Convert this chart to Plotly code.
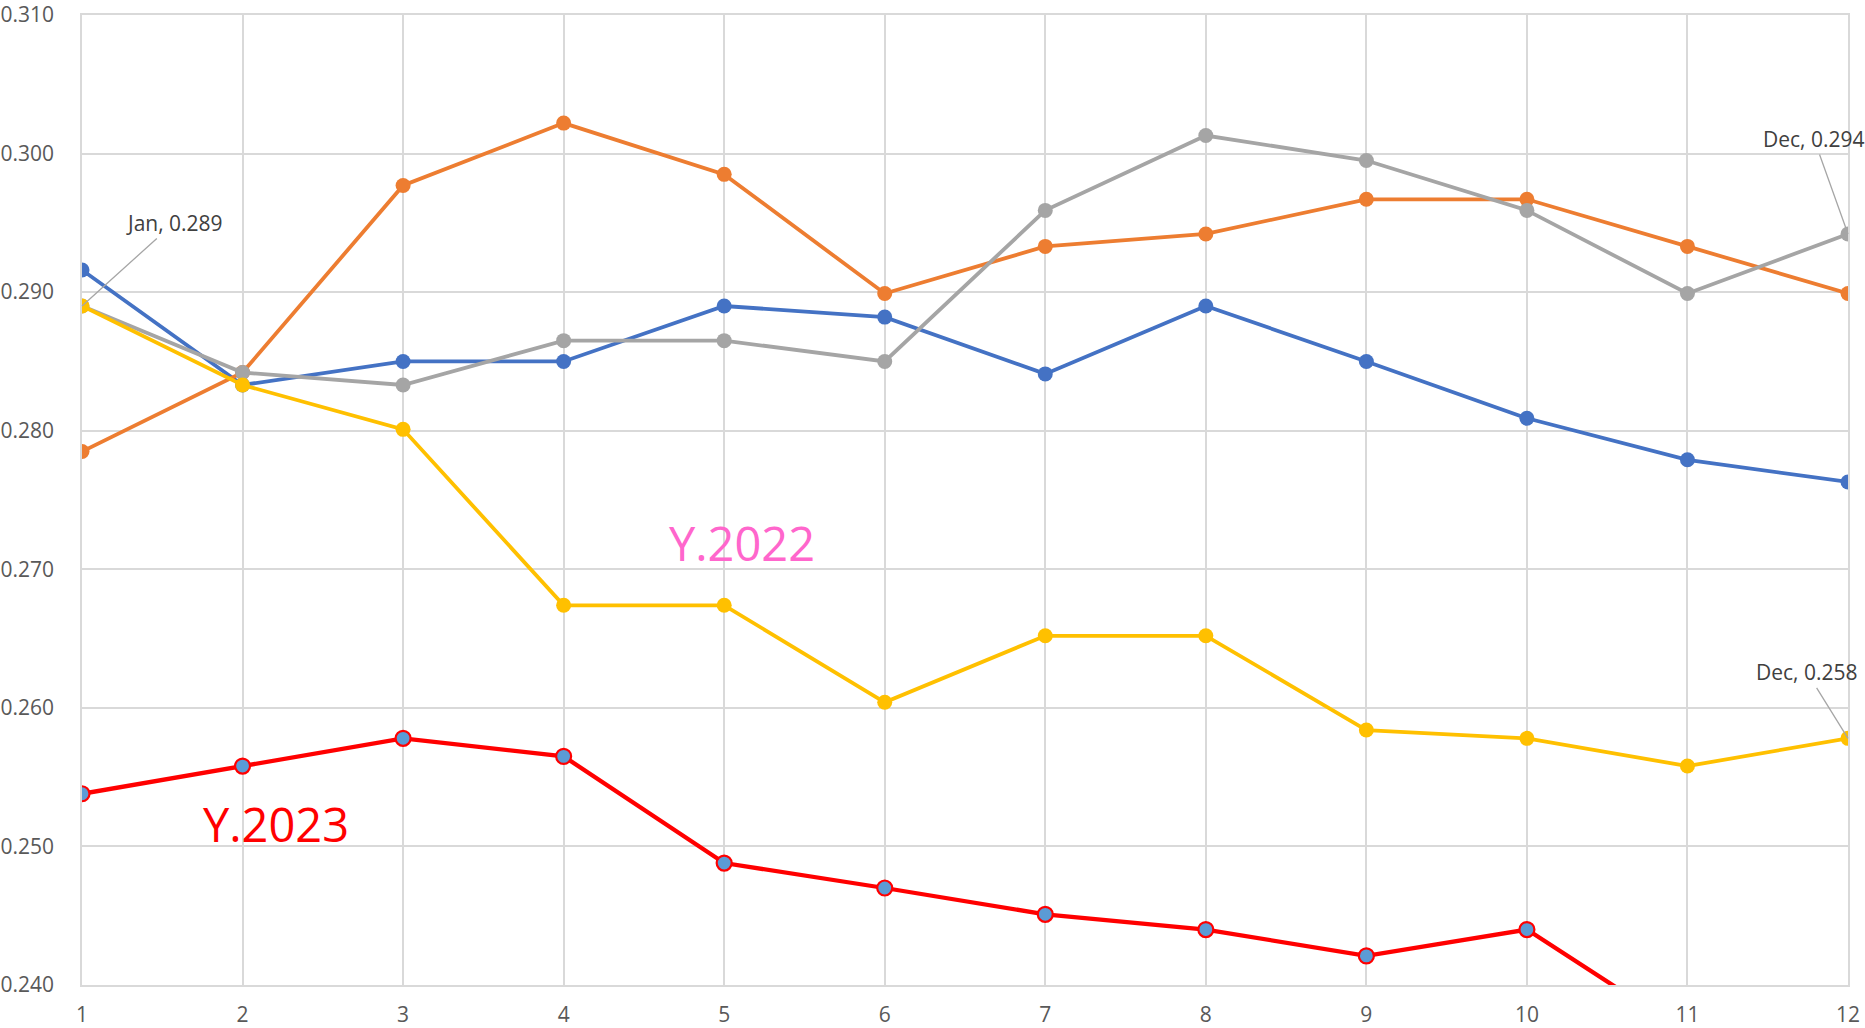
import plotly.graph_objects as go

months_num = list(range(1, 13))
month_names = ["Jan", "Feb", "Mar", "Apr", "May", "Jun", "Jul", "Aug", "Sep", "Oct", "Nov", "Dec"]

y2019 = [0.2916, 0.2833, 0.2850, 0.2850, 0.2890, 0.2882, 0.2841, 0.2890, 0.2850, 0.2809, 0.2779, 0.2763]
y2020 = [0.2785, 0.2842, 0.2977, 0.3022, 0.2985, 0.2899, 0.2933, 0.2942, 0.2967, 0.2967, 0.2933, 0.2899]
y2021 = [0.2890, 0.2842, 0.2833, 0.2865, 0.2865, 0.2850, 0.2959, 0.3013, 0.2995, 0.2959, 0.2899, 0.2942]
y2022 = [0.2890, 0.2833, 0.2801, 0.2674, 0.2674, 0.2604, 0.2652, 0.2652, 0.2584, 0.2578, 0.2558, 0.2578]
y2023 = [0.2538, 0.2558, 0.2578, 0.2565, 0.2488, 0.2470, 0.2451, 0.2440, 0.2421, 0.2440, 0.2365]

series = [
    ("Y.2019", y2019, "#4472C4"),
    ("Y.2020", y2020, "#ED7D31"),
    ("Y.2021", y2021, "#A5A5A5"),
    ("Y.2022", y2022, "#FFC000"),
]

FONT = "Open Sans"
fig = go.Figure()
for name, vals, col in series:
    fig.add_trace(go.Scatter(
        x=months_num[:len(vals)], y=vals, name=name, mode="lines+markers",
        line=dict(color=col, width=3.8),
        marker=dict(color=col, size=15, line=dict(width=0)),
    ))
fig.add_trace(go.Scatter(
    x=months_num[:len(y2023)], y=y2023, name="Y.2023", mode="lines+markers",
    line=dict(color="#FF0000", width=4.3),
    marker=dict(color="#5B9BD5", size=15, line=dict(color="#FF0000", width=2.2)),
))

label_font = dict(family=FONT, size=21, color="#404040")
ann = [
    (1, y2022[0], f"{month_names[0]}, {y2022[0]:.3f}", 92, -83),
    (12, y2021[11], f"{month_names[11]}, {y2021[11]:.3f}", -34, -95),
    (12, y2022[11], f"{month_names[11]}, {y2022[11]:.3f}", -41, -66),
]
for x, y, t, ax, ay in ann:
    fig.add_annotation(x=x, y=y, text=t, showarrow=True, arrowhead=0, arrowwidth=1.3,
                       arrowcolor="#A6A6A6", ax=ax, ay=ay, standoff=0, startstandoff=0,
                       font=label_font)

fig.add_annotation(x=5.11, y=0.2719, text="Y.2022", showarrow=False,
                   font=dict(family=FONT, size=47, color="#FF66CC"))
fig.add_annotation(x=2.21, y=0.2516, text="Y.2023", showarrow=False,
                   font=dict(family=FONT, size=47, color="#FF0000"))

grid = "#D9D9D9"
fig.update_layout(
    width=1865, height=1028,
    margin=dict(l=82, r=17, t=15, b=43),
    paper_bgcolor="white", plot_bgcolor="white",
    showlegend=False,
    font=dict(family=FONT, size=21, color="#595959"),
)
fig.update_xaxes(
    range=[1, 12], tickmode="array", tickvals=months_num, ticktext=[str(m) for m in months_num],
    showgrid=True, gridcolor=grid, gridwidth=1.5, showline=True, linecolor=grid, linewidth=1.5,
    mirror=True, zeroline=False, ticks="", ticklabelstandoff=10, automargin=False,
    tickfont=dict(family=FONT, size=21, color="#595959"),
)
fig.update_yaxes(
    range=[0.240, 0.310], dtick=0.01, tick0=0.24, tickformat=".3f",
    showgrid=True, gridcolor=grid, gridwidth=1.5, showline=True, linecolor=grid, linewidth=1.5,
    mirror=True, zeroline=False, ticks="", ticklabelstandoff=22, automargin=False,
    tickfont=dict(family=FONT, size=21, color="#595959"),
)
fig.write_html("out.html", config={"displayModeBar": False},
               post_script="document.body.style.margin='0';")
